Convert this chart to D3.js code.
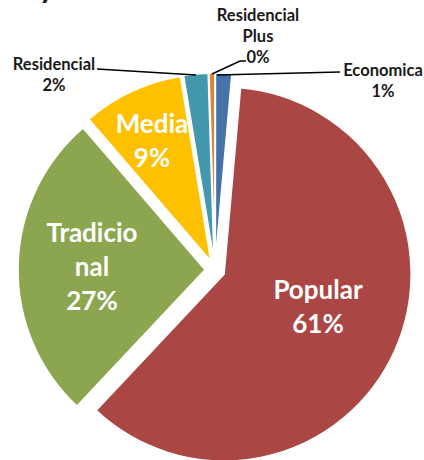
<!DOCTYPE html>
<html>
<head>
<meta charset="utf-8">
<script src="https://cdn.jsdelivr.net/npm/d3@7"></script>
<style>
  html, body { margin: 0; padding: 0; background: #fff; }
  svg { display: block; font-family: Lato, "Open Sans", sans-serif; font-weight: bold; }
</style>
</head>
<body>
<script>
// data (clockwise from 12 o'clock)
var categories = ['Economica', 'Popular', 'Tradicional', 'Media', 'Residencial', 'Residencial Plus'],
    values = [1.4, 60.6, 26.7, 8.7, 2.1, 0.5],
    pctLabels = ['1%', '61%', '27%', '9%', '2%', '0%'],
    nameLines = [['Economica'], ['Popular'], ['Tradicio', 'nal'], ['Media'], ['Residencial'], ['Residencial', 'Plus']],
    colors = ['#4572A7', '#AA4643', '#8BA64F', '#FFC000', '#4398AE', '#DB843D'];

var width = 424,
    height = 460,
    cx = 215,
    cy = 270,
    radius = 187,
    explode = 10;

var svg = d3.select('body').append('svg')
    .attr('width', width)
    .attr('height', height);

// clipped title descender at the top
svg.append('text')
    .attr('x', 39)
    .attr('y', -2)
    .style('font-size', '30px')
    .style('fill', '#1a1a1a')
    .text('y');

var pie = d3.pie().sort(null).value(function(d) { return d; }),
    arcs = pie(values),
    arc = d3.arc().innerRadius(0).outerRadius(radius),
    cScale = d3.scaleOrdinal().domain(categories).range(colors);

var shift = function(d, k) {
    var a = (d.startAngle + d.endAngle) / 2;
    return [Math.sin(a) * k, -Math.cos(a) * k];
};

var chart = svg.append('g')
    .attr('transform', 'translate(' + cx + ',' + cy + ')');

chart.selectAll('path')
    .data(arcs)
    .enter()
    .append('path')
    .attr('transform', function(d) { var s = shift(d, explode); return 'translate(' + s[0] + ',' + s[1] + ')'; })
    .attr('d', arc)
    .attr('fill', function(d, i) { return cScale(categories[i]); })
    .attr('stroke', '#fff')
    .attr('stroke-width', 1.5);

// inside labels (white) - positions in page coords
var inside = [
    {i: 1, x: 318, y: 299},
    {i: 2, x: 92, y: 242},
    {i: 3, x: 152, y: 133}
];
var lh = 34;

inside.forEach(function(o) {
    var lines = nameLines[o.i].concat([pctLabels[o.i]]);
    var t = svg.append('text')
        .attr('text-anchor', 'middle')
        .style('font-size', '26px')
        .style('fill', '#fff');
    lines.forEach(function(l, k) {
        t.append('tspan')
            .attr('x', o.x)
            .attr('y', o.y + k * lh)
            .text(l);
    });
});

// outside labels with leader lines
var outside = [
    {i: 4, x: 54, y: 70, line: [[196, 75], [97, 69]]},
    {i: 5, x: 258, y: 21, line: [[212, 74], [240, 61], [246, 61]]},
    {i: 0, x: 383, y: 76, line: [[217, 75], [340, 72]]}
];
var olh = 21;

outside.forEach(function(o) {
    var lines = nameLines[o.i].concat([pctLabels[o.i]]);
    var t = svg.append('text')
        .attr('text-anchor', 'middle')
        .style('font-size', '16.5px')
        .style('fill', '#1a1a1a');
    lines.forEach(function(l, k) {
        t.append('tspan')
            .attr('x', o.x)
            .attr('y', o.y + k * olh)
            .text(l);
    });
    svg.append('path')
        .attr('d', d3.line()(o.line))
        .attr('fill', 'none')
        .attr('stroke', '#000')
        .attr('stroke-width', 1.5);
});
</script>
</body>
</html>
